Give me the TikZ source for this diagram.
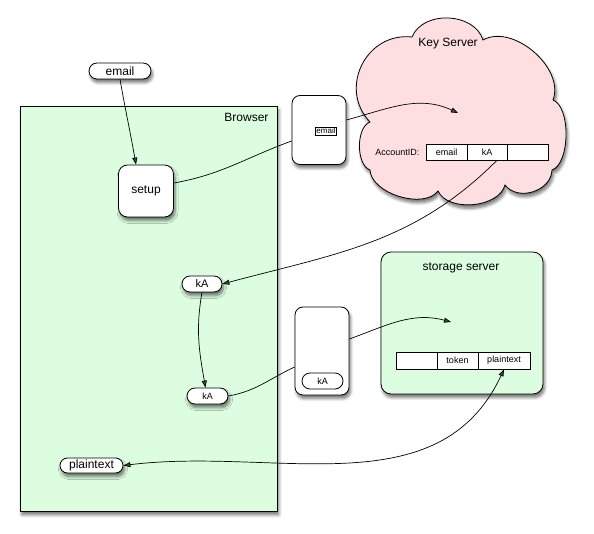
\documentclass[tikz,border=0pt]{standalone}
\usepackage{fontspec}
\setmainfont{Liberation Sans}
\usetikzlibrary{shapes.misc,shadows,shadows.blur,arrows.meta}
\definecolor{browsergreen}{RGB}{221,253,224}
\definecolor{cloudpink}{RGB}{253,223,226}
\begin{document}
\begin{tikzpicture}[x=1pt,y=1pt,
  sh/.style={blur shadow={shadow xshift=1.5pt,shadow yshift=-3.5pt,shadow blur radius=3pt,shadow blur steps=6,shadow opacity=55}},
  big/.style={font=\fontsize{12}{14}\selectfont},
  mid/.style={font=\fontsize{11}{13}\selectfont},
  small/.style={font=\fontsize{9}{10}\selectfont},
  tiny/.style={font=\fontsize{8}{9}\selectfont},
  pill/.style={rounded rectangle, draw, fill=white, line width=0.8pt, inner sep=0pt, minimum height=16pt},
  msgbox/.style={rectangle, rounded corners=8pt, draw, fill=white, line width=0.8pt, inner sep=0pt, sh},
  cell/.style={rectangle, draw, fill=white, line width=0.6pt, minimum height=16pt, inner sep=0pt, small},
  conn/.style={line width=0.7pt},
  tip/.style={-{Triangle[length=7pt,width=5pt]}},
  tips/.style={{Triangle[length=7pt,width=5pt]}-{Triangle[length=7pt,width=5pt]}}
]
\useasboundingbox (0,0) rectangle (594,-534);

% Browser
\node[draw, fill=browsergreen, line width=0.8pt, minimum width=257pt, minimum height=405pt, inner sep=0pt, anchor=north west, sh] (browser) at (20,-106) {};
\node[big, anchor=north east] (browserlabel) at (272,-110) {Browser};

% Key server cloud
\draw[fill=cloudpink, line width=0.8pt, sh]
  (412,-37) to[bend left=70, looseness=1.05] (483,-40)
  to[bend left=70, looseness=0.95] (553,-100)
  to[bend left=70, looseness=0.7] (552,-170)
  to[bend left=70, looseness=1.1] (505,-185)
  to[bend left=70, looseness=0.9] (438,-191)
  to[bend left=70, looseness=0.85] (370,-170)
  to[bend left=70, looseness=0.8] (370,-122)
  to[bend left=70, looseness=1.25] (412,-37) -- cycle;
\node[big] (kslabel) at (448,-44) {Key Server};
\coordinate (ksin) at (458,-113);

% Storage server
\node[msgbox, fill=browsergreen, rounded corners=10pt, minimum width=162pt, minimum height=142pt] (storage) at (462,-323) {};
\node[big] (stlabel) at (461,-268) {storage server};
\coordinate (stin) at (451,-322);

% Browser-side nodes
\node[pill, big, minimum width=62pt, sh] (email) at (120,-71) {email};
\node[msgbox, big, rounded corners=9pt, minimum width=55pt, minimum height=52pt] (setup) at (146,-191) {setup};
\node[pill, mid, minimum width=40pt, sh] (kA1) at (202,-284) {kA};
\node[pill, small, minimum width=41pt, sh] (kA2) at (207.5,-396) {kA};
\node[pill, big, minimum width=63pt, minimum height=15pt, sh] (plainpill) at (91.5,-465.5) {plaintext};

% Messages
\node[msgbox, minimum width=54pt, minimum height=69pt] (msg1) at (319,-130) {};
\node[draw, fill=white, line width=0.6pt, inner sep=1pt, tiny] (emailtok) at (326,-131) {email};
\node[msgbox, minimum width=54pt, minimum height=88pt] (msg2) at (322,-351) {};
\node[pill, small, minimum width=41pt] (kA3) at (322.5,-381) {kA};

% Key server table
\node[small, anchor=east] (acct) at (423,-152) {AccountID:};
\node[cell, minimum width=41pt] (kemail) at (446.5,-152) {email};
\node[cell, minimum width=40pt] (kkA) at (487,-152) {kA};
\node[cell, minimum width=41pt] (kempty) at (527.5,-152) {};

% Storage table
\node[cell, minimum width=41pt, minimum height=17pt] (sempty) at (416.5,-360.5) {};
\node[cell, minimum width=41pt, minimum height=17pt] (stoken) at (457.5,-360.5) {token};
\node[cell, minimum width=52pt, minimum height=17pt] (splain) at (504,-360.5) {plaintext};

% Connectors
\draw[conn, tip] (email.south) to[out=-80, in=100] ([xshift=-10pt]setup.north);
\draw[conn] ([yshift=8pt]setup.east) to[out=10, in=200] ([yshift=-11pt]msg1.west);
\draw[conn, tip] ([yshift=10pt]msg1.east) to[out=15, in=155] (ksin);
\draw[conn, tip] ([xshift=10pt]kkA.south) to[out=225, in=15] (kA1.east);
\draw[conn, tip] (kA1.south) to[out=-100, in=100] ([xshift=-2pt]kA2.north);
\draw[conn] (kA2.east) to[out=10, in=205] ([yshift=-16pt]msg2.west);
\draw[conn, tip] ([yshift=12pt]msg2.east) to[out=20, in=165] (stin);
\draw[conn, tips] (splain.south) to[out=-115, in=7] (plainpill.east);
\end{tikzpicture}
\end{document}
